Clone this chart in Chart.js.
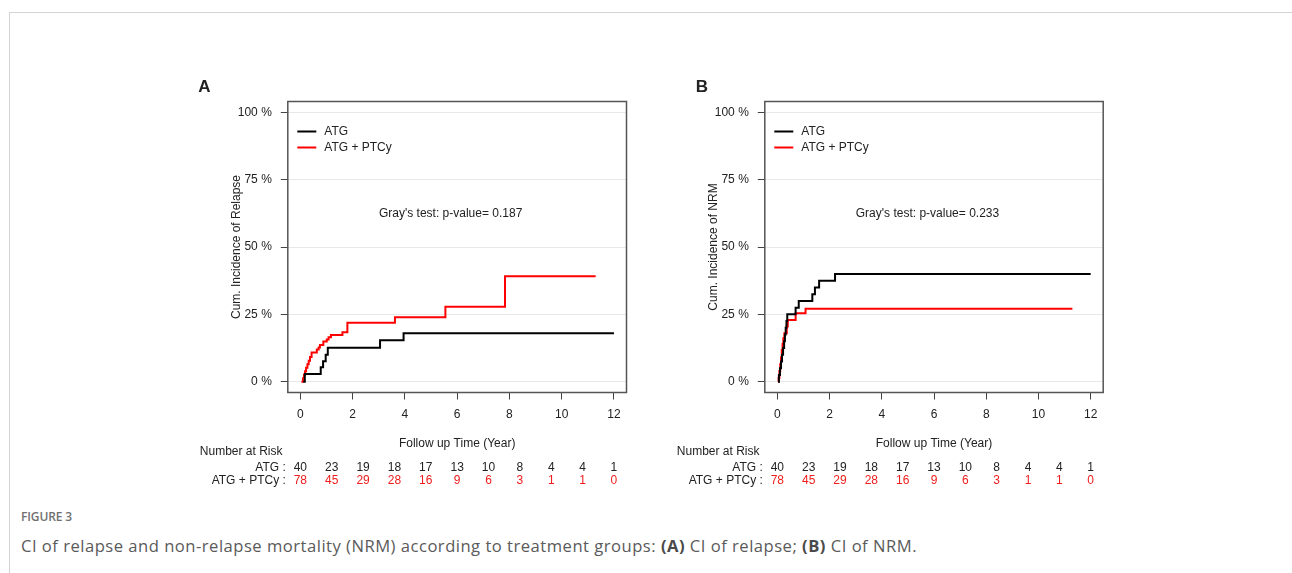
<!DOCTYPE html>
<html><head><meta charset="utf-8">
<script src="https://cdn.jsdelivr.net/npm/chart.js@4.4.1/dist/chart.umd.min.js"></script>
<style>
html,body{margin:0;padding:0;background:#fff;}
body{width:1292px;height:573px;position:relative;overflow:hidden;}
#frame{position:absolute;left:9px;top:12px;right:0;bottom:0;border-top:1px solid #d4d4d4;border-left:1px solid #d4d4d4;}
canvas{position:absolute;}
#cA{left:190px;top:70px;}
#cB{left:670px;top:70px;}
#fig{position:absolute;left:21px;top:508px;font:600 12px "Open Sans",Lato,sans-serif;color:#707070;white-space:nowrap;}
#cap{position:absolute;left:21px;top:534px;font:400 16.6px "Open Sans",Lato,sans-serif;color:#5a5a5a;white-space:nowrap;}
#cap b{font-weight:700;color:#4a4a4a;}
</style>
</head><body>
<div id="frame"></div>
<canvas id="cA" width="450" height="430"></canvas>
<canvas id="cB" width="450" height="430"></canvas>
<div id="fig">FIGURE 3</div>
<div id="cap">CI of relapse and non-relapse mortality (NRM) according to treatment groups: <b>(A)</b> CI of relapse; <b>(B)</b> CI of NRM.</div>
<script>
// ---- data ----
const seriesNames = ['ATG', 'ATG + PTCy'];
const timeTicks = [0, 2, 4, 6, 8, 10, 12];
const pctTicks = [0, 25, 50, 75, 100];
const riskTimes = [0, 1.2, 2.4, 3.6, 4.8, 6, 7.2, 8.4, 9.6, 10.8, 12];
const riskATG = [40, 23, 19, 18, 17, 13, 10, 8, 4, 4, 1];
const riskPTCy = [78, 45, 29, 28, 16, 9, 6, 3, 1, 1, 0];

// Panel A: cumulative incidence of relapse (time in years, value in %)
const relapseAtgT = [0.11, 0.17, 0.78, 0.87, 0.97, 1.05, 3.05, 3.95, 12.0];
const relapseAtgY = [0, 2.9, 5.4, 7.6, 10.0, 12.6, 15.4, 18.0, 18.0];
const relapsePtcyT = [0.04, 0.10, 0.14, 0.18, 0.22, 0.27, 0.32, 0.37, 0.43, 0.63, 0.70, 0.75, 0.88, 1.01, 1.08, 1.17, 1.61, 1.80, 3.62, 5.55, 7.83, 11.3];
const relapsePtcyY = [0, 1.3, 2.6, 3.9, 5.2, 6.5, 7.8, 9.2, 10.8, 12.0, 12.7, 13.6, 14.9, 15.7, 16.5, 17.3, 18.4, 21.9, 23.9, 27.8, 39.1, 39.1];

// Panel B: cumulative incidence of NRM
const nrmAtgT = [0.03, 0.06, 0.10, 0.14, 0.18, 0.22, 0.26, 0.29, 0.32, 0.35, 0.38, 0.70, 0.82, 1.34, 1.44, 1.60, 2.21, 12.0];
const nrmAtgY = [0, 2.5, 5, 7.5, 10, 12.5, 15, 17.5, 20, 22.5, 25, 27.5, 30, 32.5, 35, 37.5, 40, 40];
const nrmPtcyT = [0.03, 0.05, 0.08, 0.11, 0.14, 0.17, 0.20, 0.23, 0.27, 0.36, 0.40, 0.70, 1.08, 11.3];
const nrmPtcyY = [0, 1.5, 4.0, 6.5, 9.0, 11.8, 14.0, 16.1, 18.0, 20.5, 22.9, 25.4, 27.1, 27.1];

const pValueA = "Gray's test: p-value= 0.187";
const pValueB = "Gray's test: p-value= 0.233";

// ---- drawing ----
const FONT = 'Arial, "Liberation Sans", sans-serif';
const TXT = '#222';
const COLORS = ['#000000', '#ff0000'];

function pts(t, y) { return t.map((v, i) => ({x: v, y: y[i]})); }

const panelPlugin = {
  id: 'panel',
  afterDraw(chart, args, o) {
    const ctx = chart.ctx, a = chart.chartArea;
    const xs = chart.scales.x, ys = chart.scales.y;
    ctx.save();
    ctx.strokeStyle = '#555'; ctx.lineWidth = 1.5;
    ctx.strokeRect(a.left, a.top, a.right - a.left, a.bottom - a.top);
    ctx.fillStyle = TXT;
    ctx.font = 'bold 17px ' + FONT;
    ctx.textAlign = 'center'; ctx.textBaseline = 'middle';
    ctx.fillText(o.letter, o.letterX, 17);
    ctx.font = '12px ' + FONT;
    ctx.textAlign = 'left';
    chart.data.datasets.forEach((d, i) => {
      const yy = a.top + 30 + i * 16;
      ctx.strokeStyle = d.borderColor; ctx.lineWidth = 2;
      ctx.beginPath(); ctx.moveTo(a.left + 9.5, yy); ctx.lineTo(a.left + 28.5, yy); ctx.stroke();
      ctx.fillStyle = TXT;
      ctx.fillText(d.label, a.left + 36.5, yy);
    });
    ctx.textAlign = 'center';
    ctx.fillText(o.note, xs.getPixelForValue(5.75), ys.getPixelForValue(62.5));
    ctx.fillText('Follow up Time (Year)', (a.left + a.right) / 2, a.bottom + 51);
    ctx.save();
    ctx.translate(a.left - 51, (a.top + a.bottom) / 2);
    ctx.rotate(-Math.PI / 2);
    ctx.fillText(o.yTitle, 0, 0);
    ctx.restore();
    ctx.textAlign = 'left';
    ctx.fillText('Number at Risk', a.left - 88, a.bottom + 59.5);
    ctx.textAlign = 'right';
    ctx.fillText(seriesNames[0] + ' :', a.left - 2, a.bottom + 75.2);
    ctx.fillText(seriesNames[1] + ' :', a.left - 2, a.bottom + 88.5);
    ctx.textAlign = 'center';
    riskTimes.forEach((t, i) => {
      const px = xs.getPixelForValue(t);
      ctx.fillStyle = TXT;
      ctx.fillText(String(riskATG[i]), px, a.bottom + 75.2);
      ctx.fillStyle = '#ee1c1c';
      ctx.fillText(String(riskPTCy[i]), px, a.bottom + 88.5);
    });
    ctx.restore();
  }
};

function makePanel(id, cfg) {
  new Chart(document.getElementById(id), {
    type: 'line',
    data: {
      datasets: [
        {label: seriesNames[0], data: pts(cfg.t0, cfg.y0), borderColor: COLORS[0], borderWidth: 2, pointRadius: 0, stepped: 'before', fill: false},
        {label: seriesNames[1], data: pts(cfg.t1, cfg.y1), borderColor: COLORS[1], borderWidth: 2, pointRadius: 0, stepped: 'before', fill: false}
      ]
    },
    options: {
      responsive: false, animation: false, devicePixelRatio: 1,
      layout: {padding: {left: cfg.padL, right: cfg.padR, top: 31.5, bottom: 62.5}},
      plugins: {legend: {display: false}, tooltip: {enabled: false},
        panel: {letter: cfg.letter, letterX: cfg.letterX, note: cfg.note, yTitle: cfg.yTitle}},
      scales: {
        x: {
          type: 'linear', min: -0.48, max: 12.48,
          afterBuildTicks: s => { s.ticks = timeTicks.map(v => ({value: v})); },
          afterFit: s => { s.height = 45; },
          grid: {drawOnChartArea: false, tickLength: 7, tickColor: '#444', lineWidth: 1},
          border: {display: false},
          ticks: {padding: 8, color: TXT, font: {family: FONT, size: 12}, maxRotation: 0, autoSkip: false}
        },
        y: {
          type: 'linear', min: -4, max: 104,
          afterBuildTicks: s => { s.ticks = pctTicks.map(v => ({value: v})); },
          afterFit: s => { s.width = 60; },
          grid: {color: '#e8e8e8', tickLength: 7, tickColor: '#444', lineWidth: 1},
          border: {display: false},
          ticks: {padding: 9, color: TXT, font: {family: FONT, size: 12}, autoSkip: false, callback: v => v + ' %'}
        }
      }
    },
    plugins: [panelPlugin]
  });
}

makePanel('cA', {t0: relapseAtgT, y0: relapseAtgY, t1: relapsePtcyT, y1: relapsePtcyY,
  padL: 37.8, padR: 13.5, letter: 'A', letterX: 14.5, note: pValueA, yTitle: 'Cum. Incidence of Relapse'});
makePanel('cB', {t0: nrmAtgT, y0: nrmAtgY, t1: nrmPtcyT, y1: nrmPtcyY,
  padL: 34.8, padR: 16.8, letter: 'B', letterX: 32, note: pValueB, yTitle: 'Cum. Incidence of NRM'});

// fit caption widths to the reference's text extents
function fitWidth(id, target) {
  const el = document.getElementById(id);
  const w = el.getBoundingClientRect().width;
  const n = el.textContent.length;
  el.style.letterSpacing = ((target - w) / n) + 'px';
}
fitWidth('fig', 51);
fitWidth('cap', 896);
</script>
</body></html>
